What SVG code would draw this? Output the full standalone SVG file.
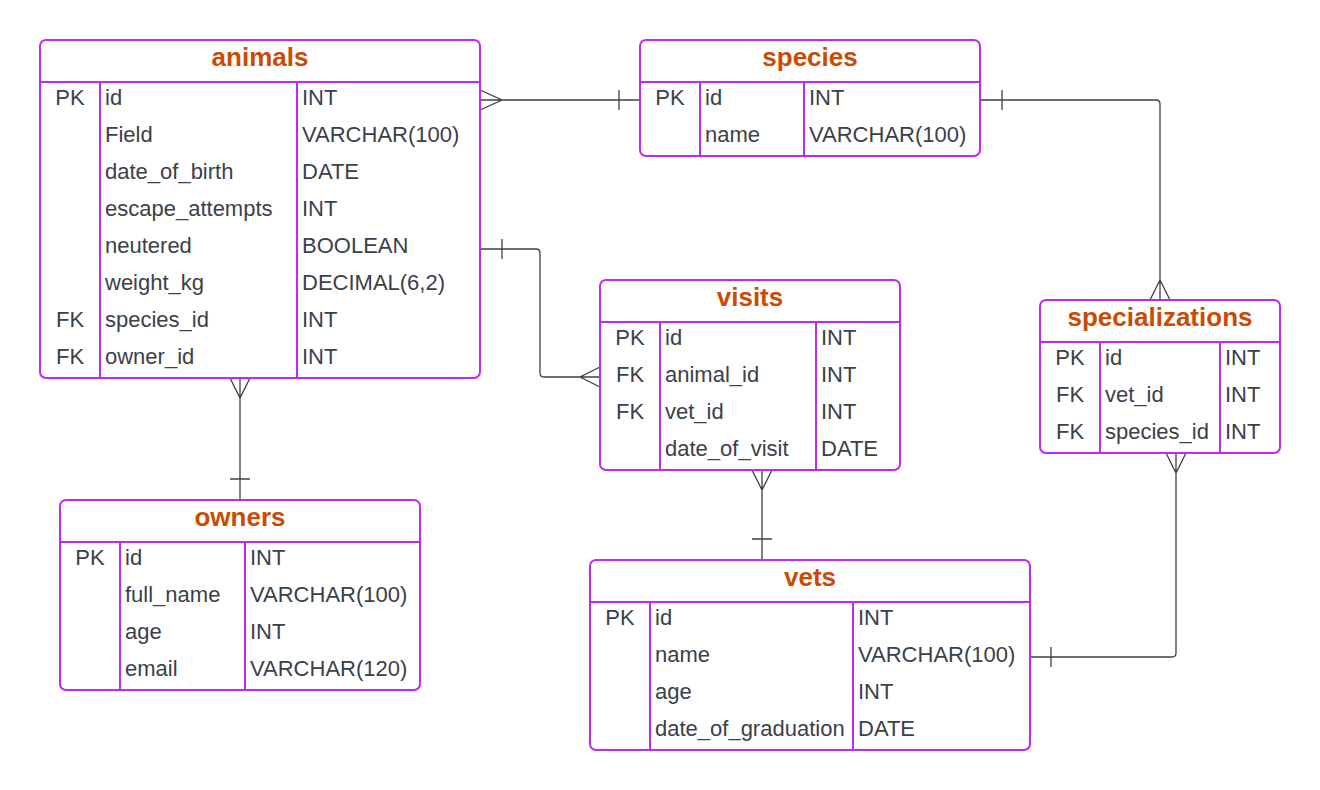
<svg xmlns="http://www.w3.org/2000/svg" width="1320" height="790" viewBox="0 0 1320 790">
<style>
.box{fill:#ffffff;stroke:#bf28fa;stroke-width:2}
.ln{stroke:#bf28fa;stroke-width:2;fill:none}
.t{font-family:"Liberation Sans",Arial,sans-serif;font-size:26px;font-weight:bold;fill:#cc4b00;text-anchor:middle}
.k{font-family:"Liberation Sans",Arial,sans-serif;font-size:22px;fill:#3a414a;text-anchor:middle}
.f{font-family:"Liberation Sans",Arial,sans-serif;font-size:22px;fill:#3a414a}
.c{stroke:#3a414a;stroke-width:1.3;fill:none}
</style>
<rect width="1320" height="790" fill="#ffffff"/>
<g id="connectors">
<path class="c" d="M480,100 H640 M480,90 L502,100 L480,110 M619,90 V110"/>
<path class="c" d="M480,249 H536 Q540,249 540,253 V373 Q540,377 544,377 H600 M502,239 V259 M600,367 L580,377 L600,387"/>
<path class="c" d="M980,100 H1156 Q1160,100 1160,104 V300 M1002,90 V110 M1150,300 L1160,280 L1170,300"/>
<path class="c" d="M1176,453 V653 Q1176,657 1172,657 H1030 M1166,453 L1176,473 L1186,453 M1051,647 V667"/>
<path class="c" d="M762,470 V560 M752,470 L762,490 L772,470 M752,539 H772"/>
<path class="c" d="M240,378 V500 M230,378 L240,398 L250,378 M230,479 H250"/>
</g>
<g id="animals">
<rect class="box" x="40" y="40" width="440" height="338" rx="6"/>
<path class="ln" d="M40,82 H480 M100,82 V378 M297,82 V378"/>
<text class="t" x="260" y="66">animals</text>
<text class="k" x="70" y="105">PK</text><text class="f" x="105" y="105">id</text><text class="f" x="302" y="105">INT</text>
<text class="f" x="105" y="142">Field</text><text class="f" x="302" y="142">VARCHAR(100)</text>
<text class="f" x="105" y="179">date_of_birth</text><text class="f" x="302" y="179">DATE</text>
<text class="f" x="105" y="216">escape_attempts</text><text class="f" x="302" y="216">INT</text>
<text class="f" x="105" y="253">neutered</text><text class="f" x="302" y="253">BOOLEAN</text>
<text class="f" x="105" y="290">weight_kg</text><text class="f" x="302" y="290">DECIMAL(6,2)</text>
<text class="k" x="70" y="327">FK</text><text class="f" x="105" y="327">species_id</text><text class="f" x="302" y="327">INT</text>
<text class="k" x="70" y="364">FK</text><text class="f" x="105" y="364">owner_id</text><text class="f" x="302" y="364">INT</text>
</g>
<g id="species">
<rect class="box" x="640" y="40" width="340" height="116" rx="6"/>
<path class="ln" d="M640,82 H980 M700,82 V156 M804,82 V156"/>
<text class="t" x="810" y="66">species</text>
<text class="k" x="670" y="105">PK</text><text class="f" x="705" y="105">id</text><text class="f" x="809" y="105">INT</text>
<text class="f" x="705" y="142">name</text><text class="f" x="809" y="142">VARCHAR(100)</text>
</g>
<g id="visits">
<rect class="box" x="600" y="280" width="300" height="190" rx="6"/>
<path class="ln" d="M600,322 H900 M660,322 V470 M816,322 V470"/>
<text class="t" x="750" y="306">visits</text>
<text class="k" x="630" y="345">PK</text><text class="f" x="665" y="345">id</text><text class="f" x="821" y="345">INT</text>
<text class="k" x="630" y="382">FK</text><text class="f" x="665" y="382">animal_id</text><text class="f" x="821" y="382">INT</text>
<text class="k" x="630" y="419">FK</text><text class="f" x="665" y="419">vet_id</text><text class="f" x="821" y="419">INT</text>
<text class="f" x="665" y="456">date_of_visit</text><text class="f" x="821" y="456">DATE</text>
</g>
<g id="specializations">
<rect class="box" x="1040" y="300" width="240" height="153" rx="6"/>
<path class="ln" d="M1040,342 H1280 M1100,342 V453 M1220,342 V453"/>
<text class="t" x="1160" y="326">specializations</text>
<text class="k" x="1070" y="365">PK</text><text class="f" x="1105" y="365">id</text><text class="f" x="1225" y="365">INT</text>
<text class="k" x="1070" y="402">FK</text><text class="f" x="1105" y="402">vet_id</text><text class="f" x="1225" y="402">INT</text>
<text class="k" x="1070" y="439">FK</text><text class="f" x="1105" y="439">species_id</text><text class="f" x="1225" y="439">INT</text>
</g>
<g id="owners">
<rect class="box" x="60" y="500" width="360" height="190" rx="6"/>
<path class="ln" d="M60,542 H420 M120,542 V690 M245,542 V690"/>
<text class="t" x="240" y="526">owners</text>
<text class="k" x="90" y="565">PK</text><text class="f" x="125" y="565">id</text><text class="f" x="250" y="565">INT</text>
<text class="f" x="125" y="602">full_name</text><text class="f" x="250" y="602">VARCHAR(100)</text>
<text class="f" x="125" y="639">age</text><text class="f" x="250" y="639">INT</text>
<text class="f" x="125" y="676">email</text><text class="f" x="250" y="676">VARCHAR(120)</text>
</g>
<g id="vets">
<rect class="box" x="590" y="560" width="440" height="190" rx="6"/>
<path class="ln" d="M590,602 H1030 M650,602 V750 M853,602 V750"/>
<text class="t" x="810" y="586">vets</text>
<text class="k" x="620" y="625">PK</text><text class="f" x="655" y="625">id</text><text class="f" x="858" y="625">INT</text>
<text class="f" x="655" y="662">name</text><text class="f" x="858" y="662">VARCHAR(100)</text>
<text class="f" x="655" y="699">age</text><text class="f" x="858" y="699">INT</text>
<text class="f" x="655" y="736">date_of_graduation</text><text class="f" x="858" y="736">DATE</text>
</g>
</svg>
